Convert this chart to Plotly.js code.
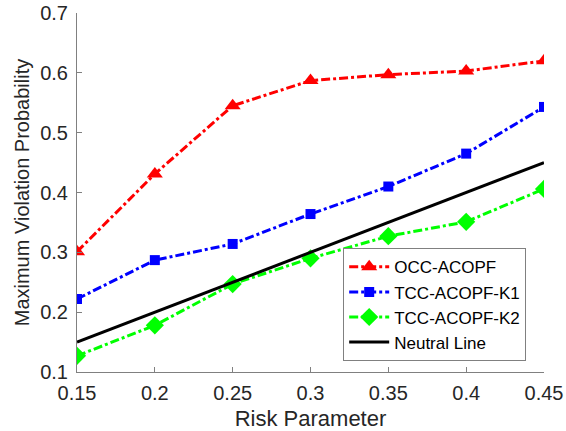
<!DOCTYPE html>
<html><head><meta charset="utf-8">
<script src="https://cdn.plot.ly/plotly-3.0.1.min.js"></script>
<style>html,body{margin:0;padding:0;background:#fff}#c{width:566px;height:431px}</style>
</head><body><div id="c"></div>
<script>
const risk = [0.15, 0.2, 0.25, 0.3, 0.35, 0.4, 0.45];
const occ = [0.301, 0.431, 0.545, 0.587, 0.597, 0.603, 0.620];
const k1 = [0.222, 0.287, 0.314, 0.364, 0.410, 0.465, 0.543];
const k2 = [0.127, 0.178, 0.247, 0.290, 0.327, 0.351, 0.406];
const neutral = [0.15, 0.2, 0.25, 0.3, 0.35, 0.4, 0.45];
const names = ['OCC-ACOPF', 'TCC-ACOPF-K1', 'TCC-ACOPF-K2', 'Neutral Line'];
const xticks = [0.15, 0.2, 0.25, 0.3, 0.35, 0.4, 0.45];
const xtickText = ['0.15', '0.2', '0.25', '0.3', '0.35', '0.4', '0.45'];
const yticks = [0.1, 0.2, 0.3, 0.4, 0.5, 0.6, 0.7];
const ytickText = ['0.1', '0.2', '0.3', '0.4', '0.5', '0.6', '0.7'];

const font = 'Liberation Sans, Arial, Helvetica, sans-serif';
const traces = [
  {x: risk, y: occ, name: names[0], mode: 'lines+markers',
   line: {color: '#ff0000', width: 3, dash: 'dashdot'},
   marker: {symbol: 'triangle-up', size: 14, color: '#ff0000'}},
  {x: risk, y: k1, name: names[1], mode: 'lines+markers',
   line: {color: '#0000ff', width: 3, dash: 'dashdot'},
   marker: {symbol: 'square', size: 10, color: '#0000ff'}},
  {x: risk, y: k2, name: names[2], mode: 'lines+markers',
   line: {color: '#00ff00', width: 3, dash: 'dashdot'},
   marker: {symbol: 'diamond', size: 14, color: '#00ff00'}},
  {x: risk, y: neutral, name: names[3], mode: 'lines',
   line: {color: '#000000', width: 3}}
];
const layout = {
  width: 566, height: 431,
  margin: {l: 77, r: 22, t: 13, b: 59},
  paper_bgcolor: '#fff', plot_bgcolor: '#fff',
  font: {family: font, size: 20, color: '#262626'},
  showlegend: true,
  legend: {x: 0.57, y: 0.03, xanchor: 'left', yanchor: 'bottom',
    bordercolor: '#808080', borderwidth: 1, bgcolor: '#fff',
    font: {family: font, size: 17, color: '#000'}, tracegroupgap: 0, itemwidth: 40},
  xaxis: {range: [0.15, 0.45], tickvals: xticks, ticktext: xtickText,
    ticks: 'inside', ticklen: 5, tickcolor: '#808080', showline: true, linecolor: '#808080', linewidth: 1,
    ticklabelstandoff: 3,
    showgrid: false, zeroline: false, automargin: false, tickfont: {size: 20, color: '#262626'},
    title: {text: 'Risk Parameter', font: {size: 22, color: '#262626'}, standoff: 9}},
  yaxis: {range: [0.1, 0.7], tickvals: yticks, ticktext: ytickText,
    ticks: 'inside', ticklen: 5, tickcolor: '#808080', showline: true, linecolor: '#808080', linewidth: 1,
    ticklabelstandoff: 4,
    showgrid: false, zeroline: false, automargin: false, tickfont: {size: 20, color: '#262626'},
    title: {text: 'Maximum Violation Probability', font: {size: 20, color: '#262626'}, standoff: 5}}
};
Plotly.newPlot('c', traces, layout, {displayModeBar: false, staticPlot: true});
</script></body></html>
